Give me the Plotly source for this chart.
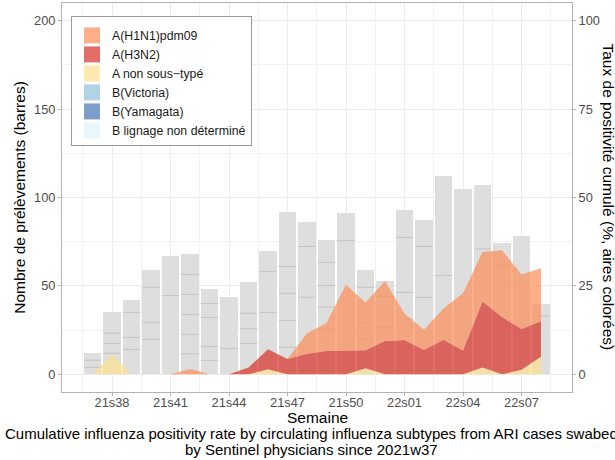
import plotly.graph_objects as go

# ---------------- data ----------------
weeks = ["21s37", "21s38", "21s39", "21s40", "21s41", "21s42", "21s43", "21s44",
         "21s45", "21s46", "21s47", "21s48", "21s49", "21s50", "21s51", "21s52",
         "22s01", "22s02", "22s03", "22s04", "22s05", "22s06", "22s07", "22s08"]

# number of samples per week (grey bars, left axis)
n_samples = [12, 35, 42, 59, 67, 68, 48, 44, 52, 70, 92, 86, 76, 91, 59, 53,
             93, 87, 112, 105, 107, 74, 78, 40]

# internal subdivision lines seen inside each grey bar (left axis units)
bar_segment_lines = [
    [4, 8], [11.9, 17.5, 23.2], [14.1, 20.9, 35], [19.8, 29.4, 49.2], [44.6],
    [11.5, 22.6, 33.9, 45.2, 56.5], [7.9, 15.8, 32.2, 40.1], [14.5],
    [17.5, 25.8, 34.5], [35, 58.2], [15.3, 30.5, 45.8, 61], [43.6, 72.3],
    [25.4, 38, 50.3, 63.3], [75.6], [19.8, 29.4, 49.2], [26.6, 44],
    [31.2, 46.3, 77.4], [43.5, 72.3], [55.9], [], [70.9], [61.7], [], [33.1],
]

# positivity rate (%) by subtype (right axis, stacked areas)
pct_a_non_sous_type = [0, 5.7, 0, 0, 0, 0, 0, 0, 0, 1.4, 0, 0, 0, 0, 1.7, 0,
                       0, 0, 0, 0, 1.9, 0, 1.3, 5.0]
pct_h3n2 = [0, 0, 0, 0, 0, 0, 0, 0, 1.9, 5.7, 4.3, 5.8, 6.6, 6.6, 5.1, 9.4,
            9.7, 6.9, 9.8, 6.7, 18.7, 16.2, 11.5, 10.0]
pct_h1n1 = [0, 0, 0, 0, 0, 1.5, 0, 0, 0, 0, 0, 5.8, 7.9, 18.7, 13.5, 17.0,
            7.5, 5.7, 8.8, 16.2, 14.0, 18.9, 15.4, 15.0]

tick_weeks = ["21s38", "21s41", "21s44", "21s47", "21s50", "22s01", "22s04", "22s07"]

legend_names = ["A(H1N1)pdm09", "A(H3N2)", "A non sous\u2212typé",
                "B(Victoria)", "B(Yamagata)", "B lignage non déterminé"]

caption_lines = [
    "Cumulative influenza positivity rate by circulating influenza subtypes from ARI cases swabed",
    "by Sentinel physicians since 2021w37",
]

# ---------------- styling ----------------
FONT = "Liberation Sans, Arial, Helvetica, sans-serif"
ALPHA = 0.7
base_cols = {
    "A(H1N1)pdm09": (252, 141, 89),
    "A(H3N2)": (215, 48, 39),
    "A non sous\u2212typé": (254, 224, 144),
    "B(Victoria)": (145, 191, 219),
    "B(Yamagata)": (69, 117, 180),
    "B lignage non déterminé": (224, 243, 248),
}

# panel position in pixels
PL, PR, PT, PB = 62, 572, 3, 392
W, H = 615, 460


def px_x(p):
    return (p - PL) / (PR - PL)


def px_y(p):
    return (PB - p) / (PB - PT)


def rgba(c, a=ALPHA):
    return "rgba(%d,%d,%d,%.2f)" % (c[0], c[1], c[2], a)


x = list(range(len(weeks)))
tickvals = [weeks.index(w) for w in tick_weeks]

fig = go.Figure()

# grey bars
fig.add_trace(go.Bar(
    x=x, y=n_samples, width=0.9, marker=dict(color="#dedede", line=dict(width=0)),
    showlegend=False, hoverinfo="skip", yaxis="y"))

# internal lines of bars
seg_x, seg_y = [], []
for i, segs in enumerate(bar_segment_lines):
    for v in segs:
        seg_x.append(x[i])
        seg_y.append(v)
fig.add_trace(go.Scatter(
    x=seg_x, y=seg_y, mode="markers",
    marker=dict(symbol="line-ew", size=12.5, line=dict(width=1, color="#c4c4c4")),
    showlegend=False, hoverinfo="skip", yaxis="y"))

# stacked areas (bottom to top)
for name, vals in [("A non sous\u2212typé", pct_a_non_sous_type),
                   ("A(H3N2)", pct_h3n2),
                   ("A(H1N1)pdm09", pct_h1n1)]:
    fig.add_trace(go.Scatter(
        x=x, y=vals, mode="lines", stackgroup="pct", yaxis="y2",
        line=dict(width=0), fillcolor=rgba(base_cols[name]),
        showlegend=False, hoverinfo="skip", name=name))

# legend entries
for name in legend_names:
    fig.add_trace(go.Scatter(
        x=[None], y=[None], mode="markers", name=name,
        marker=dict(symbol="square", size=17, color=rgba(base_cols[name]),
                    line=dict(width=0)),
        yaxis="y"))

grid = "#ebebeb"
fig.update_layout(
    width=W, height=H,
    margin=dict(l=PL, r=W - PR, t=PT, b=H - PB),
    paper_bgcolor="white", plot_bgcolor="white",
    font=dict(family=FONT, color="#000000"),
    showlegend=True,
    legend=dict(
        x=px_x(71), y=px_y(16), xanchor="left", yanchor="top",
        bgcolor="white", bordercolor="#9a9a9a", borderwidth=1,
        font=dict(family=FONT, size=12.3, color="#1a1a1a"),
        itemwidth=30, traceorder="normal",
        title=dict(text=" ", font=dict(size=3)),
    ),
    xaxis=dict(
        range=[-1.564, 24.59], tickmode="array", tickvals=tickvals, ticktext=tick_weeks,
        showgrid=True, gridcolor=grid, gridwidth=1,
        minor=dict(tickmode="array", tickvals=[v - 1.5 for v in tickvals] + [tickvals[-1] + 1.5],
                   showgrid=True, gridcolor="#f2f2f2", gridwidth=1, ticks=""),
        showline=True, linecolor="#b3b3b3", linewidth=1, mirror=True,
        ticks="outside", ticklen=3, tickcolor="#b3b3b3",
        ticklabelstandoff=-4,
        tickfont=dict(size=12.8, color="#4d4d4d", family=FONT),
        zeroline=False,
    ),
    yaxis=dict(
        range=[-10, 210], tickvals=[0, 50, 100, 150, 200],
        showgrid=True, gridcolor=grid, gridwidth=1,
        minor=dict(tickvals=[25, 75, 125, 175], showgrid=True, gridcolor="#f2f2f2",
                   gridwidth=1, ticks=""),
        showline=True, linecolor="#b3b3b3", linewidth=1, mirror=True,
        ticks="outside", ticklen=3, tickcolor="#b3b3b3",
        tickfont=dict(size=12.8, color="#4d4d4d", family=FONT),
        zeroline=False,
        title=dict(text="Nombre de prélèvements (barres)",
                   font=dict(size=15.5, color="#000000", family=FONT), standoff=4),
    ),
    yaxis2=dict(
        range=[-5, 105], tickvals=[0, 25, 50, 75, 100], overlaying="y", side="right",
        showgrid=False, showline=False, zeroline=False,
        ticks="outside", ticklen=3, tickcolor="#b3b3b3",
        tickfont=dict(size=12.8, color="#4d4d4d", family=FONT),
    ),
    bargap=0,
)

# x axis title
fig.add_annotation(
    text="Semaine", xref="paper", yref="paper", x=0.5, y=px_y(417.5),
    xanchor="center", yanchor="middle", showarrow=False,
    font=dict(size=15.5, color="#000000", family=FONT))

# right axis title
fig.add_annotation(
    text="Taux de positivité cumulé (%, aires colorées)",
    xref="paper", yref="paper", x=px_x(608), y=px_y(196.5),
    xanchor="center", yanchor="middle", textangle=90, showarrow=False,
    font=dict(size=15.5, color="#000000", family=FONT))

for line_text, yc in zip(caption_lines, [433, 449.5]):
    fig.add_annotation(
        text=line_text, xref="paper", yref="paper", x=px_x(311), y=px_y(yc),
        xanchor="center", yanchor="middle", showarrow=False,
        font=dict(size=15, color="#000000", family=FONT))

fig.write_html("out.html", config={"displayModeBar": False},
               post_script="document.body.style.margin='0px';")
